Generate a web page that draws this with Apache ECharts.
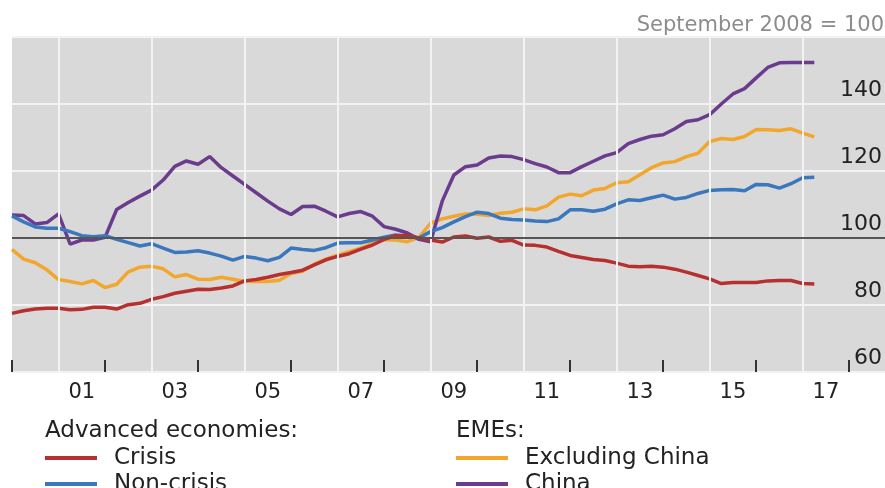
<!DOCTYPE html>
<html>
<head>
<meta charset="utf-8">
<script src="https://cdn.jsdelivr.net/npm/echarts@6/dist/echarts.min.js"></script>
<style>
  html, body { margin: 0; padding: 0; background: #fff; }
  #chart { width: 885px; height: 488px; }
</style>
</head>
<body>
<div id="chart"></div>
<script>
// quarterly observations, 2000 Q1 .. 2017 Q2 (September 2008 = 100)
var startYear = 2000;

var crisis = [77.5, 78.3, 78.8, 79.0, 79.0, 78.6, 78.7, 79.3, 79.3, 78.8,
    80.1, 80.5, 81.7, 82.5, 83.5, 84.1, 84.7, 84.6, 85.1, 85.7,
    87.2, 87.6, 88.3, 89.1, 89.7, 90.4, 92.0, 93.5, 94.5, 95.3,
    96.7, 97.9, 99.6, 100.7, 100.7, 100.0, 99.4, 98.8, 100.3, 100.6,
    99.9, 100.3, 99.0, 99.3, 97.9, 97.8, 97.3, 96.0, 94.8, 94.2,
    93.6, 93.3, 92.5, 91.6, 91.4, 91.6, 91.3, 90.7, 89.8, 88.8,
    87.8, 86.4, 86.7, 86.7, 86.7, 87.2, 87.3, 87.3, 86.4, 86.3];

var nonCrisis = [106.6, 104.8, 103.3, 102.9, 102.9, 101.9, 100.7, 100.4, 100.7, 99.6,
    98.6, 97.6, 98.3, 97.0, 95.7, 95.8, 96.2, 95.5, 94.6, 93.4,
    94.5, 94.0, 93.2, 94.2, 97.0, 96.6, 96.3, 97.1, 98.5, 98.6,
    98.6, 99.4, 100.2, 100.9, 100.6, 100.0, 101.9, 103.1, 104.8, 106.4,
    107.7, 107.3, 105.9, 105.5, 105.4, 105.1, 104.9, 105.7, 108.4, 108.4,
    108.0, 108.6, 110.2, 111.4, 111.2, 112.0, 112.8, 111.6, 112.1, 113.3,
    114.2, 114.4, 114.5, 114.1, 116.0, 115.9, 114.9, 116.2, 118.0, 118.1];

var exChina = [96.6, 93.7, 92.6, 90.5, 87.6, 87.0, 86.3, 87.3, 85.2, 86.2,
    89.9, 91.3, 91.6, 90.8, 88.4, 89.1, 87.7, 87.6, 88.3, 87.7,
    87.0, 87.0, 87.0, 87.4, 89.4, 90.1, 92.2, 93.7, 94.9, 95.9,
    97.0, 98.4, 99.5, 99.4, 98.9, 100.2, 104.4, 105.7, 106.5, 107.2,
    107.1, 106.7, 107.4, 107.7, 108.7, 108.4, 109.6, 112.2, 113.1, 112.6,
    114.3, 114.8, 116.5, 116.8, 118.9, 121.0, 122.4, 122.8, 124.3, 125.3,
    128.8, 129.7, 129.4, 130.3, 132.4, 132.3, 132.1, 132.6, 131.3, 130.2];

var china = [106.9, 106.7, 104.2, 104.6, 107.2, 98.2, 99.4, 99.4, 100.2, 108.5,
    110.6, 112.5, 114.3, 117.3, 121.4, 123.0, 122.0, 124.3, 121.0, 118.5,
    116.0, 113.5, 111.0, 108.7, 107.0, 109.4, 109.5, 108.0, 106.3, 107.3,
    107.9, 106.5, 103.4, 102.6, 101.5, 99.6, 98.9, 111.0, 118.8, 121.3,
    121.8, 123.9, 124.5, 124.3, 123.4, 122.2, 121.2, 119.5, 119.5, 121.3,
    122.9, 124.5, 125.5, 128.2, 129.4, 130.4, 130.8, 132.6, 134.8, 135.3,
    136.8, 140.0, 143.0, 144.6, 147.8, 150.9, 152.3, 152.4, 152.4, 152.4];

var yearTicks = [2000, 2001, 2002, 2003, 2004, 2005, 2006, 2007, 2008, 2009,
    2010, 2011, 2012, 2013, 2014, 2015, 2016, 2017, 2018];
var labelYears = [2001, 2003, 2005, 2007, 2009, 2011, 2013, 2015, 2017];
var gridYears = [2001, 2003, 2005, 2007, 2009, 2011, 2013, 2015, 2017];

var colors = {
    crisis: '#b73030',
    nonCrisis: '#3b77bc',
    exChina: '#f3a62c',
    china: '#6b3b8e'
};

function pairs(arr) {
    return arr.map(function (v, i) { return [startYear + i / 4, v]; });
}

var font = 'DejaVu Sans';
var myChart = echarts.init(document.getElementById('chart'));

var option = {
    animation: false,
    title: {
        text: 'September 2008 = 100',
        right: -4,
        top: 10,
        textStyle: { fontFamily: font, fontSize: 21, fontWeight: 'normal', color: '#8c8c8c' }
    },
    grid: {
        left: 12,
        right: 0,
        top: 37,
        bottom: 116,
        show: true,
        backgroundColor: '#d9d9d9',
        borderWidth: 0
    },
    graphic: [
        { type: 'text', left: 45, top: 420, style: { text: 'Advanced economies:', font: '23px "DejaVu Sans"', fill: '#222' } },
        { type: 'text', left: 456, top: 420, style: { text: 'EMEs:', font: '23px "DejaVu Sans"', fill: '#222' } }
    ],
    legend: [
        {
            left: 45, top: 445, height: 70, padding: 0, orient: 'vertical', itemGap: 0,
            itemWidth: 52, itemHeight: 4, icon: 'rect',
            data: ['Crisis', 'Non-crisis'],
            textStyle: { fontFamily: font, fontSize: 23, color: '#222', lineHeight: 26, padding: [0, 0, 0, 12] }
        },
        {
            left: 456, top: 445, height: 70, padding: 0, orient: 'vertical', itemGap: 0,
            itemWidth: 52, itemHeight: 4, icon: 'rect',
            data: ['Excluding China', 'China'],
            textStyle: { fontFamily: font, fontSize: 23, color: '#222', lineHeight: 26, padding: [0, 0, 0, 12] }
        }
    ],
    xAxis: {
        type: 'value',
        min: 2000,
        max: 2018.77,
        axisLine: { show: false },
        splitLine: { show: false },
        axisTick: {
            show: true, inside: true, length: 12,
            customValues: yearTicks,
            lineStyle: { color: '#333', width: 2 }
        },
        axisLabel: {
            customValues: labelYears.map(function (y) { return y + 0.5; }),
            formatter: function (v) { return ('0' + (Math.floor(v) % 100)).slice(-2); },
            fontFamily: font, fontSize: 21, color: '#222', margin: 10
        }
    },
    yAxis: {
        type: 'value',
        position: 'right',
        min: 60,
        max: 160,
        interval: 20,
        axisLine: { show: false },
        axisTick: { show: false },
        splitLine: { lineStyle: { color: '#f3f3f3', width: 2 } },
        axisLabel: {
            inside: true,
            showMaxLabel: false,
            verticalAlign: 'bottom',
            margin: 3,
            padding: [0, 0, 3, 0],
            fontFamily: font, fontSize: 22, color: '#222'
        }
    },
    series: [
        {
            name: 'Excluding China', type: 'line', showSymbol: false, symbol: 'none',
            data: pairs(exChina), color: colors.exChina,
            lineStyle: { width: 3.5, color: colors.exChina },
            markLine: {
                silent: true, symbol: 'none', label: { show: false },
                data: gridYears.map(function (y) {
                    return { xAxis: y, lineStyle: { color: '#f3f3f3', width: 2, type: 'solid' } };
                }).concat([{ yAxis: 100, lineStyle: { color: '#555', width: 2, type: 'solid' } }])
            }
        },
        {
            name: 'China', type: 'line', showSymbol: false, symbol: 'none',
            data: pairs(china), color: colors.china,
            lineStyle: { width: 3.5, color: colors.china }
        },
        {
            name: 'Non-crisis', type: 'line', showSymbol: false, symbol: 'none',
            data: pairs(nonCrisis), color: colors.nonCrisis,
            lineStyle: { width: 3.5, color: colors.nonCrisis }
        },
        {
            name: 'Crisis', type: 'line', showSymbol: false, symbol: 'none',
            data: pairs(crisis), color: colors.crisis,
            lineStyle: { width: 3.5, color: colors.crisis }
        }
    ]
};
myChart.setOption(option);
</script>
</body>
</html>
